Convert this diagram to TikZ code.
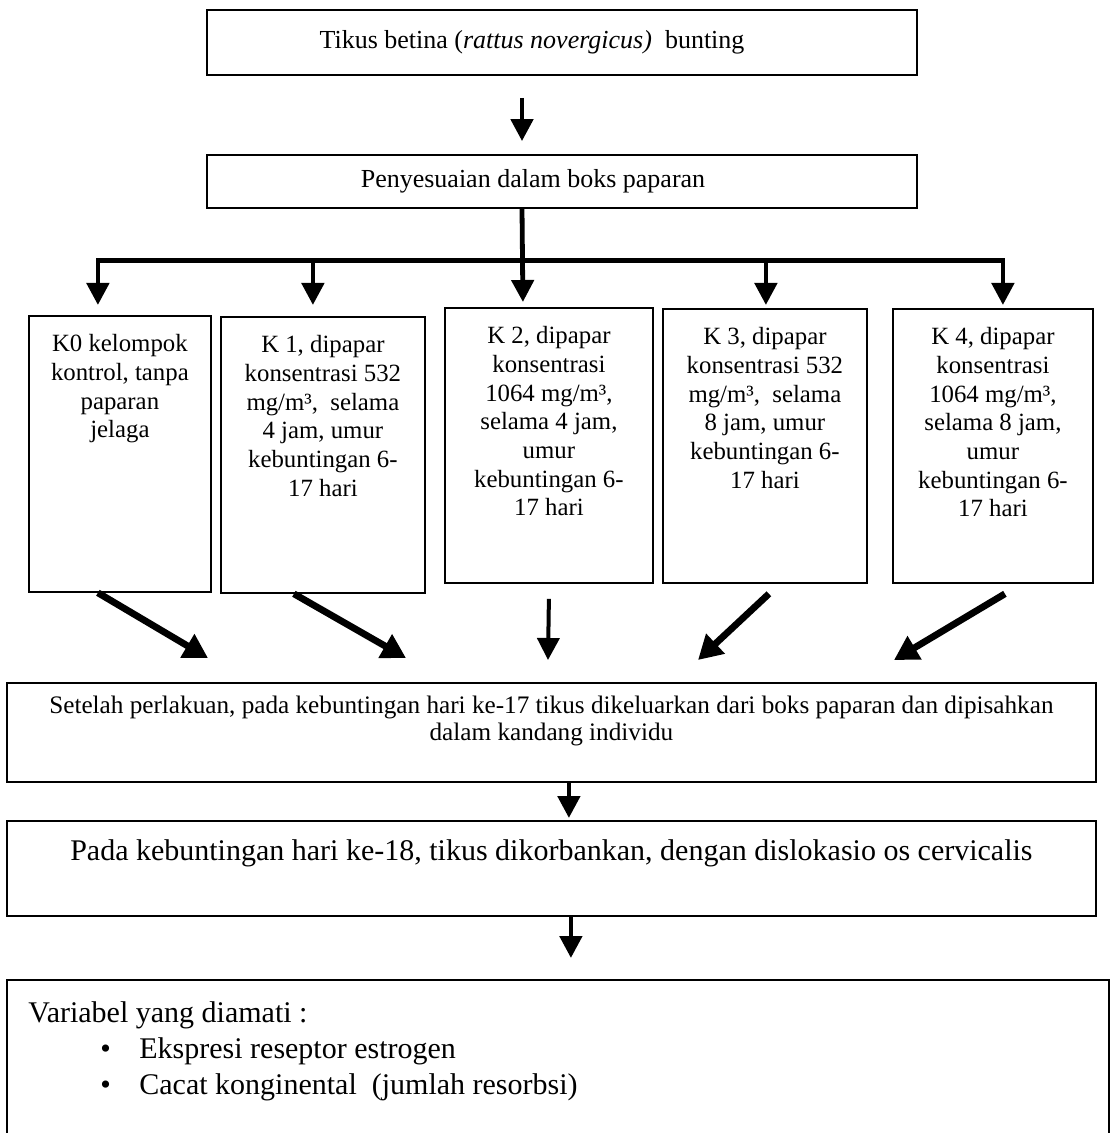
\documentclass[tikz,border=0pt]{standalone}
\usepackage{fontspec}
\setmainfont{Liberation Serif}
\usepackage{tikz}
\usetikzlibrary{arrows.meta}
\usetikzlibrary{calc}
\usetikzlibrary{positioning}

\begin{document}
\begin{tikzpicture}[x=1pt,y=-1pt,
    box/.style={draw, line width=0.9pt, inner sep=0pt},
    kbox/.style={box, anchor=north west, minimum height=138pt},
    ktext/.style={align=center, inner sep=0pt, font=\fontsize{12.4}{14.35}\selectfont},
    tree/.style={line width=2.4pt, line cap=rect},
    arr/.style={line width=2.4pt, -{Triangle[width=11pt,length=11pt]}},
    slant/.style={line width=3.4pt, -{Triangle[width=13pt,length=12pt]}}]
    \useasboundingbox (0,0) rectangle (554.5,566.5);

    \node[box, minimum width=355pt, minimum height=32.5pt, font=\fontsize{13}{15}\selectfont] (top) at (281,21.25) {Tikus betina (\textit{rattus novergicus)}\ \ bunting\hspace*{30pt}};
    \node[box, minimum width=355pt, minimum height=26.5pt, font=\fontsize{13}{15}\selectfont] (pen) at (281,90.75) {Penyesuaian dalam boks paparan\hspace*{29pt}};

    \node[kbox, minimum width=91pt] (k0) at (14,157.5) {};
    \node[kbox, minimum width=102pt] (k1) at (110,158) {};
    \node[kbox, minimum width=104pt, minimum height=137.5pt] (k2) at (222,153.5) {};
    \node[kbox, minimum width=102pt, minimum height=137pt] (k3) at (331,154) {};
    \node[kbox, minimum width=100pt, minimum height=137pt] (k4) at (446,154) {};

    \node[ktext, below=9.5pt of k0.north] (k0t) {K0 kelompok\\kontrol, tanpa\\paparan\\jelaga};
    \node[ktext, below=9.5pt of k1.north] (k1t) {K 1, dipapar\\konsentrasi 532\\mg/m³,\ \ selama\\4 jam, umur\\kebuntingan 6-\\17 hari};
    \node[ktext, below=9.5pt of k2.north] (k2t) {K 2, dipapar\\konsentrasi\\1064 mg/m³,\\selama 4 jam,\\umur\\kebuntingan 6-\\17 hari};
    \node[ktext, below=9.5pt of k3.north] (k3t) {K 3, dipapar\\konsentrasi 532\\mg/m³,\ \ selama\\8 jam, umur\\kebuntingan 6-\\17 hari};
    \node[ktext, below=9.5pt of k4.north] (k4t) {K 4, dipapar\\konsentrasi\\1064 mg/m³,\\selama 8 jam,\\umur\\kebuntingan 6-\\17 hari};

    \node[box, anchor=north west, minimum width=544.5pt, minimum height=49.5pt] (after) at (3,341) {};
    \node[below=7pt of after.north, align=center, inner sep=0pt, font=\fontsize{12.6}{13.5}\selectfont] (aftert) {Setelah perlakuan, pada kebuntingan hari ke-17 tikus dikeluarkan dari boks paparan dan dipisahkan\\dalam kandang individu};

    \node[box, anchor=north west, minimum width=544.5pt, minimum height=47.5pt] (kill) at (3,410) {};
    \node[below=9.5pt of kill.north, inner sep=0pt, font=\fontsize{15}{17}\selectfont] (killt) {Pada kebuntingan hari ke-18, tikus dikorbankan, dengan dislokasio os cervicalis};

    \node[box, anchor=north west, minimum width=551pt, minimum height=90pt] (var) at (3,489.5) {};
    \node[below right=11pt and 11pt of var.north west, align=left, inner sep=0pt, font=\fontsize{15}{18}\selectfont] (vart) {Variabel yang diamati :\\
        \hspace*{36pt}\makebox[19.5pt][l]{•}Ekspresi reseptor estrogen\\
        \hspace*{36pt}\makebox[19.5pt][l]{•}Cacat konginental\ \ (jumlah resorbsi)};

    \draw[arr] ($(top.south)+(-20,11)$) -- ($(pen.north)+(-20,-6.5)$);

    \coordinate (bar) at ($(pen.south)+(-20,26)$);
    \coordinate (in0) at ($(k0.north)+(-11,-5)$);
    \coordinate (in1) at ($(k1.north)+(-5,-5.5)$);
    \coordinate (in2) at ($(k2.north)+(-13,-2.5)$);
    \coordinate (in3) at ($(k3.north)+(0.5,-1.5)$);
    \coordinate (in4) at ($(k4.north)+(5,-1.5)$);

    \draw[tree] (bar -| in0) -- (bar -| in4);
    \draw[arr] ($(pen.south)+(-20,0)$) -- (in2);
    \foreach \i in {0,1,3,4}
        \draw[arr] (bar -| in\i) -- (in\i);

    \draw[slant] ($(k0.south)+(-11,0)$) -- ($(after.north west)+(101,-12)$);
    \draw[slant] ($(k1.south)+(-14.5,0)$) -- ($(after.north west)+(200,-12)$);
    \draw[arr, line width=2pt] ($(k2.south)+(0,7.5)$) -- ($(after.north west)+(271,-11)$);
    \draw[slant] ($(k3.south)+(2,5)$) -- ($(after.north west)+(346,-11)$);
    \draw[slant] ($(k4.south)+(6,5)$) -- ($(after.north west)+(444,-11)$);

    \draw[arr] ($(after.south)+(8.75,0)$) -- ($(kill.north)+(8.75,-1)$);
    \draw[arr] ($(kill.south)+(9.75,0)$) -- ($(var.north)+(6.5,-10.5)$);

\end{tikzpicture}
\end{document}
